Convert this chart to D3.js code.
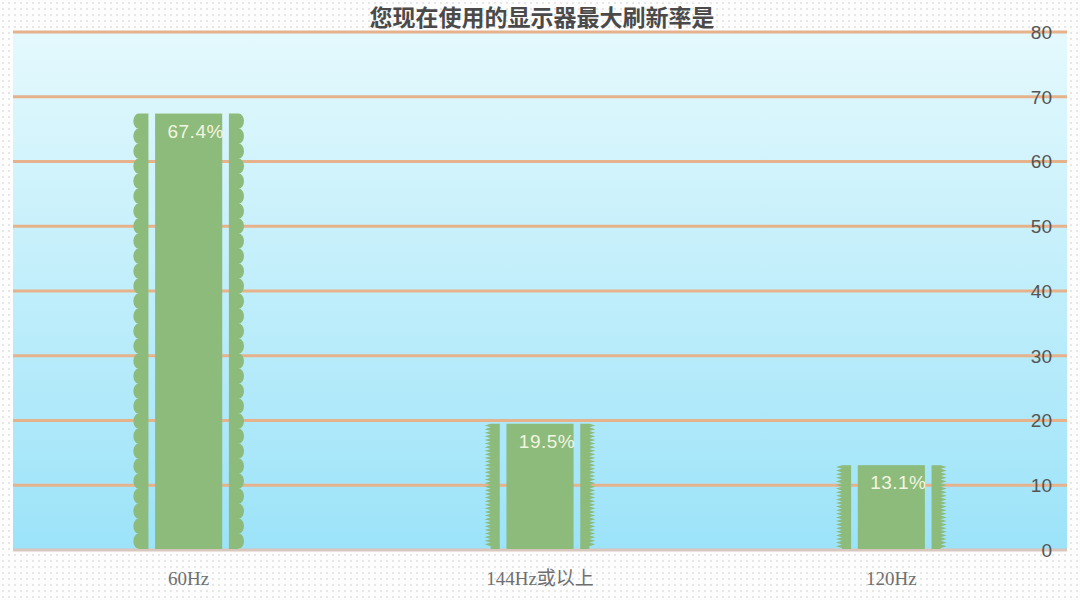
<!DOCTYPE html>
<html><head><meta charset="utf-8">
<script src="https://cdn.jsdelivr.net/npm/d3@7/dist/d3.min.js"></script>
<style>html,body{margin:0;padding:0;background:#fff;}svg{display:block;}</style>
</head><body>
<script>
const title = "您现在使用的显示器最大刷新率是";
const categories = ["60Hz", "144Hz或以上", "120Hz"];
const values = [67.4, 19.5, 13.1];
const valueLabels = ["67.4%", "19.5%", "13.1%"];
const edgeStyles = ["scallop", "saw", "saw"];
const yTicks = [0, 10, 20, 30, 40, 50, 60, 70, 80];

const W = 1080, H = 600;
const m = {left: 13, right: 13, top: 32, bottom: 50};
const svg = d3.select("body").append("svg").attr("width", W).attr("height", H);
const defs = svg.append("defs");
const pat = defs.append("pattern").attr("id", "dots").attr("width", 6).attr("height", 6).attr("patternUnits", "userSpaceOnUse");
pat.append("rect").attr("width", 6).attr("height", 6).attr("fill", "#fdfdfd");
pat.append("circle").attr("cx", 3).attr("cy", 3).attr("r", 0.8).attr("fill", "#cccccc");
const grad = defs.append("linearGradient").attr("id", "bg").attr("x1", 0).attr("y1", 0).attr("x2", 0).attr("y2", 1);
grad.append("stop").attr("offset", "0%").attr("stop-color", "#e4f9fd");
grad.append("stop").attr("offset", "100%").attr("stop-color", "#9ce3f9");

svg.append("rect").attr("width", W).attr("height", H).attr("fill", "url(#dots)");

const x = d3.scaleBand().domain(categories).range([m.left, W - m.right]).padding(0);
const y = d3.scaleLinear().domain([0, 80]).range([H - m.bottom, m.top]);

svg.append("rect").attr("x", m.left).attr("y", y(80)).attr("width", W - m.left - m.right)
  .attr("height", y(0) - y(80)).attr("fill", "url(#bg)");

// gridlines
svg.append("g").selectAll("line").data(yTicks).join("line")
  .attr("x1", m.left).attr("x2", W - m.right)
  .attr("y1", d => y(d)).attr("y2", d => y(d))
  .attr("stroke", d => d === 0 ? "#d9c6bd" : "#e6b28c")
  .attr("stroke-width", 3);

// bars
const bw = x.bandwidth();
const halfBody = bw * 0.0955, gap = bw * 0.019, side = bw * 0.043;
const green = "#8dbb7b";

function sidePath(xo, xi, top, bottom, dir, style) {
  let p = `M${xi},${top}`;
  if (style === "scallop") {
    const depth = 5.5, period = 15;
    const base = xo - dir * depth;
    p += `L${base},${top}`;
    let yy = top;
    while (yy + period <= bottom + 0.01) {
      p += `A${depth},${period / 2} 0 0 ${dir < 0 ? 0 : 1} ${base},${yy + period}`;
      yy += period;
    }
    p += `L${base},${bottom}`;
  } else {
    const depth = 6, period = 3.6;
    const base = xo - dir * depth;
    p += `L${base},${top}`;
    let yy = top;
    while (yy + period <= bottom + 0.01) {
      p += `L${xo},${yy + period / 2}L${base},${yy + period}`;
      yy += period;
    }
    p += `L${base},${bottom}`;
  }
  p += `L${xi},${bottom}Z`;
  return p;
}

const bars = svg.append("g").selectAll("g").data(categories).join("g");
bars.each(function(c, i) {
  const g = d3.select(this);
  const cx = x(c) + bw / 2;
  const top = y(values[i]), bottom = y(0) - 1;
  g.append("rect").attr("x", cx - halfBody).attr("y", top).attr("width", 2 * halfBody)
    .attr("height", bottom - top).attr("fill", green);
  const liL = cx - halfBody - gap, loL = liL - side;
  const liR = cx + halfBody + gap, loR = liR + side;
  g.append("path").attr("d", sidePath(loL, liL, top, bottom, -1, edgeStyles[i])).attr("fill", green);
  g.append("path").attr("d", sidePath(loR, liR, top, bottom, 1, edgeStyles[i])).attr("fill", green);
  g.append("text").attr("x", cx + 7).attr("y", top + 24).attr("text-anchor", "middle")
    .attr("font-family", "Liberation Sans, Arial, sans-serif").attr("font-size", 19)
    .attr("letter-spacing", 0.5)
    .attr("fill", "#f3f5e0").text(valueLabels[i]);
});

// y-axis labels on right
svg.append("g").selectAll("text").data(yTicks).join("text")
  .attr("x", 1052).attr("y", d => y(d)).attr("dy", "0.36em").attr("text-anchor", "end")
  .attr("font-family", "Liberation Sans, Arial, sans-serif").attr("font-size", 19)
  .attr("fill", "#555").text(d => d);

// category labels
svg.append("g").selectAll("text").data(categories).join("text")
  .attr("x", d => x(d) + bw / 2).attr("y", 585).attr("text-anchor", "middle")
  .attr("font-family", "'Liberation Serif', 'Noto Sans CJK SC', serif").attr("font-size", 19)
  .attr("fill", "#6f6f6f").text(d => d);

// title
svg.append("text").attr("x", 542).attr("y", 26).attr("text-anchor", "middle")
  .attr("font-family", "'Noto Sans CJK SC', sans-serif").attr("font-weight", 600).attr("font-size", 23)
  .attr("fill", "#4a4a4a").text(title);
</script>
</body></html>
